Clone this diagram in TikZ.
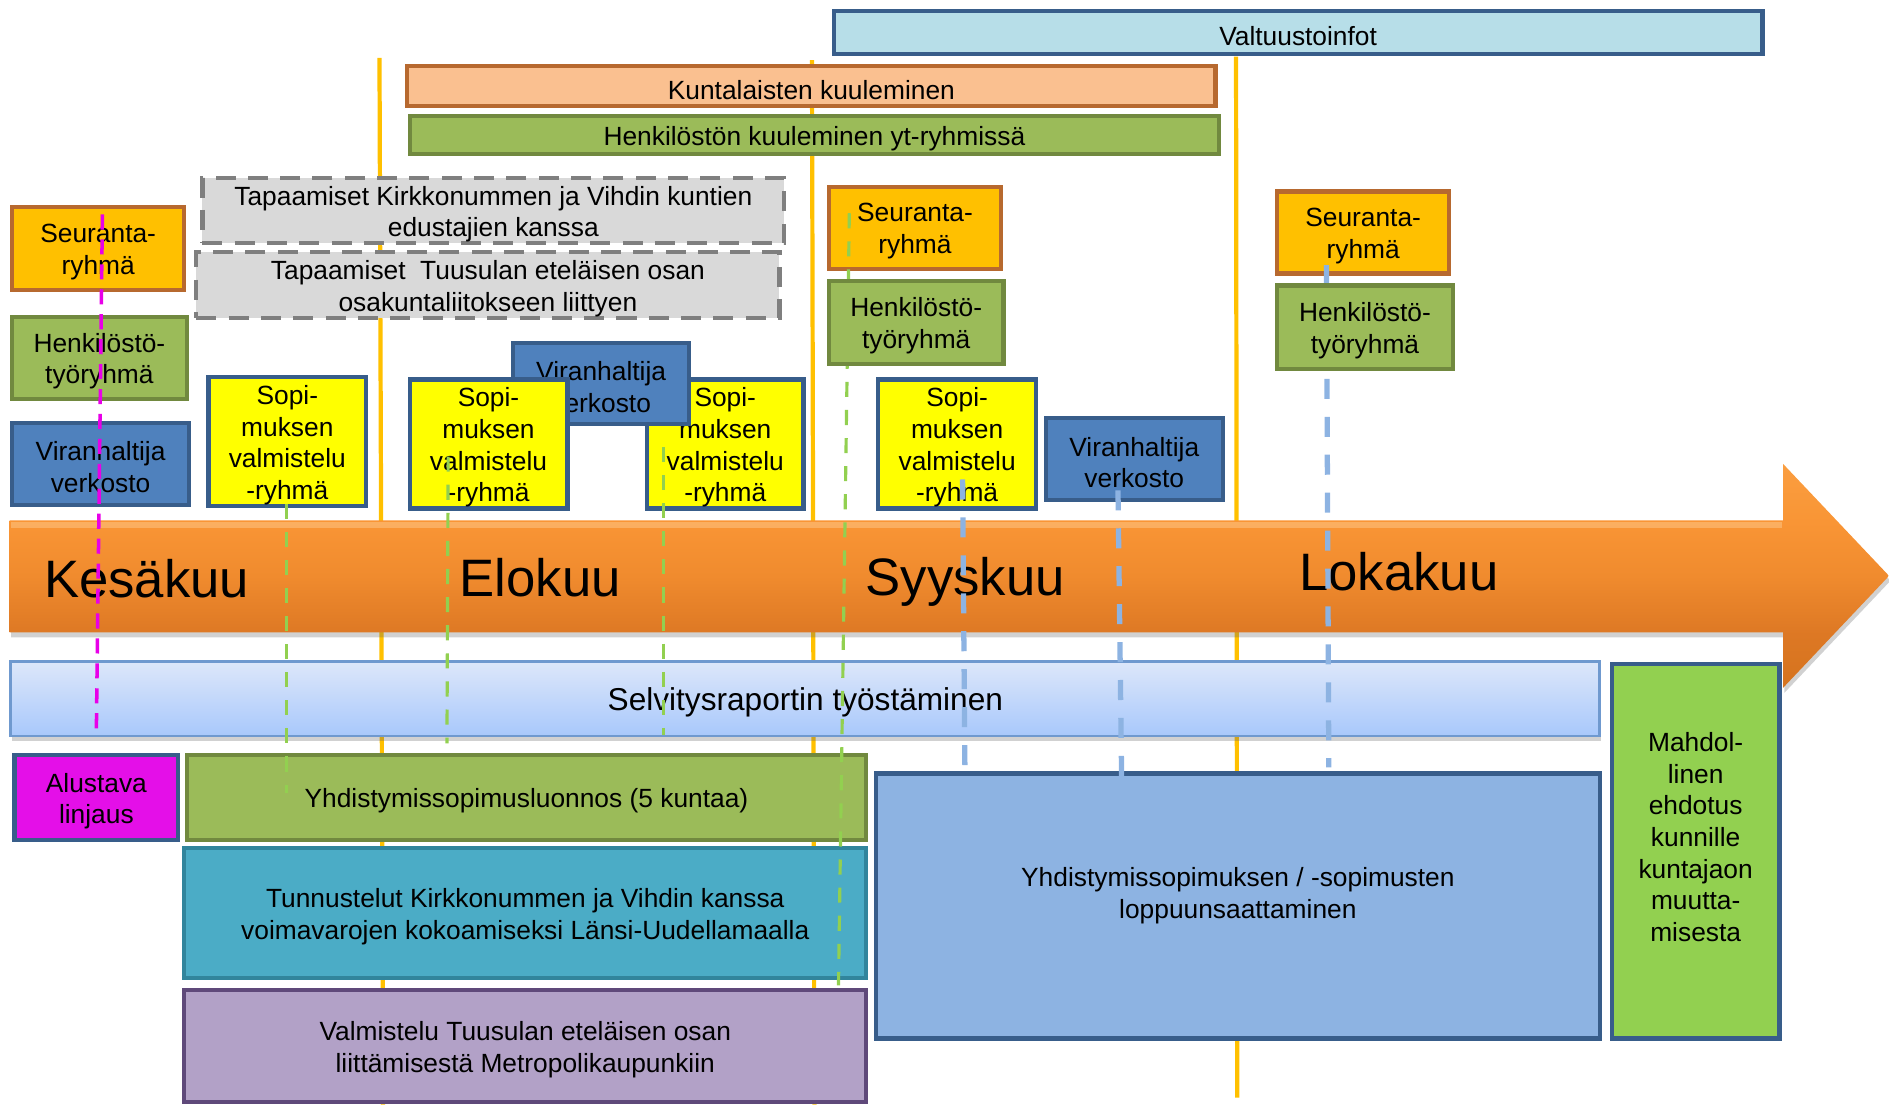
\documentclass[tikz,border=0pt]{standalone}
\usepackage{fontspec}
\setmainfont{Liberation Sans}
\usetikzlibrary{shadows}
\definecolor{vline}{HTML}{FFC000}
\definecolor{dblue}{HTML}{385D8A}
\definecolor{valtf}{HTML}{B7DEE8}
\definecolor{kuntf}{HTML}{FAC090}
\definecolor{brownb}{HTML}{B7692F}
\definecolor{olive}{HTML}{9BBB59}
\definecolor{oliveb}{HTML}{71893F}
\definecolor{grayf}{HTML}{D9D9D9}
\definecolor{grayb}{HTML}{7F7F7F}
\definecolor{goldf}{HTML}{FFC000}
\definecolor{bluef}{HTML}{4F81BD}
\definecolor{yelf}{HTML}{FFFF00}
\definecolor{magf}{HTML}{E40FE8}
\definecolor{tealf}{HTML}{4BACC6}
\definecolor{tealb}{HTML}{31859C}
\definecolor{purf}{HTML}{B2A1C7}
\definecolor{purb}{HTML}{5F497A}
\definecolor{ltbluef}{HTML}{8DB3E2}
\definecolor{limef}{HTML}{92D050}
\definecolor{selvt}{HTML}{DDE7FA}
\definecolor{selvb}{HTML}{A8C8FB}
\definecolor{selvl}{HTML}{6F99CF}
\definecolor{magl}{HTML}{E800E8}
\definecolor{greenl}{HTML}{92D050}
\definecolor{bluel}{HTML}{8DB3E2}
\definecolor{arA}{HTML}{D5731E}
\definecolor{arB}{HTML}{DD7824}
\definecolor{arC}{HTML}{F08B2E}
\definecolor{arD}{HTML}{F99535}
\definecolor{arE}{HTML}{FA9E40}
\definecolor{arH}{HTML}{FDC585}
\pgfdeclareverticalshading{arrowshade}{100bp}{color(0bp)=(arA); color(25bp)=(arA); color(37bp)=(arB); color(50bp)=(arC); color(62bp)=(arD); color(75bp)=(arE); color(100bp)=(arE)}
\newcommand\myfont{\fontsize{7.5}{9}\selectfont}
\newcommand\selvfont{\fontsize{9}{11}\selectfont}
\newcommand\bigmonth{\fontsize{15}{18}\selectfont}
% [label options] name, style, x1, y1, x2, y2, text
\newcommand\bx[8][]{\node[box,#3,minimum width={(#6-#4)*0.012047cm},minimum height={(#7-#5)*0.012047cm},label={[boxtext,yshift=-1pt,#1]center:#8}] (#2) at ({(#4+#6)/2},{(#5+#7)/2}) {};}
\begin{document}
\begin{tikzpicture}[x=0.012047cm,y=-0.012047cm,
  box/.style={inner sep=0pt, draw, line width=1.2pt},
  boxtext/.style={inner sep=0pt, align=center, font=\myfont, text=black},
  gdash/.style={dash pattern=on 5.7pt off 3.5pt},
  vl/.style={draw=vline, line width=1.2pt},
  magdash/.style={draw=magl, line width=1pt, dash pattern=on 4.3pt off 2.8pt},
  grdash/.style={draw=greenl, line width=0.9pt, dash pattern=on 4.3pt off 3.7pt},
  bldash/.style={draw=bluel, line width=1.5pt, dash pattern=on 5.7pt off 5.1pt},
  month/.style={anchor=base west, inner sep=0pt, font=\bigmonth, text=black},
  softshadow/.style={drop shadow={shadow xshift=0.4pt, shadow yshift=-1.4pt, opacity=0.3, fill=black!60}}]
\useasboundingbox (0,0) rectangle (1568,917);
% month separator lines
\coordinate (v1t) at (315,48); \coordinate (v1b) at (318,917);
\coordinate (v2t) at (674,50); \coordinate (v2b) at (676,917);
\coordinate (v3t) at (1026,47); \coordinate (v3b) at (1027,911);
\draw[vl] (v1t) -- (v1b);
\draw[vl] (v2t) -- (v2b);
\draw[vl] (v3t) -- (v3b);
% top bars
\bx{valt}{fill=valtf,draw=dblue}{692}{9}{1463}{45}{Valtuustoinfot}
\bx{kunt}{fill=kuntf,draw=brownb}{338}{55}{1009}{88}{Kuntalaisten kuuleminen}
\bx{henkk}{fill=olive,draw=oliveb}{340}{96}{1012}{128}{Henkilöstön kuuleminen yt-ryhmissä}
\bx{tap1}{fill=grayf,draw=grayb,gdash}{168}{148}{651}{202}{Tapaamiset Kirkkonummen ja Vihdin kuntien\\edustajien kanssa}
\bx{tap2}{fill=grayf,draw=grayb,gdash}{163}{209}{647}{264}{Tapaamiset\ \ Tuusulan eteläisen osan\\osakuntaliitokseen liittyen}
% June column
\bx{seur1}{fill=goldf,draw=brownb}{10}{172}{153}{241}{Seuranta-\\ryhmä}
\bx{henk1}{fill=olive,draw=oliveb}{10}{263}{155}{331}{Henkilöstö-\\työryhmä}
\bx{vir1}{fill=bluef,draw=dblue}{10}{351}{157}{419}{Viranhaltija\\verkosto}
\bx{sopi1}{fill=yelf,draw=dblue}{173}{313}{304}{420}{Sopi-\\muksen\\valmistelu\\-ryhmä}
% August column
\bx{sopi3}{fill=yelf,draw=dblue}{537}{315}{667}{422}{Sopi-\\muksen\\valmistelu\\-ryhmä}
\bx{vir2}{fill=bluef,draw=dblue}{426}{285}{572}{352}{Viranhaltija\\verkosto}
\bx{sopi2}{fill=yelf,draw=dblue}{340}{315}{471}{422}{Sopi-\\muksen\\valmistelu\\-ryhmä}
% September column
\bx{seur2}{fill=goldf,draw=brownb}{688}{155}{831}{223}{Seuranta-\\ryhmä}
\bx{sopi4}{fill=yelf,draw=dblue}{729}{315}{860}{422}{Sopi-\\muksen\\valmistelu\\-ryhmä}
\bx{vir3}{fill=bluef,draw=dblue}{868}{347}{1015}{415}{Viranhaltija\\verkosto}
% October column
\bx{seur3}{fill=goldf,draw=brownb}{1060}{159}{1203}{227}{Seuranta-\\ryhmä}
% timeline arrow
\path[shading=arrowshade, softshadow] (8,432) -- (1480,432) -- (1480,385) -- (1568,478) -- (1480,571) -- (1480,525) -- (8,525) -- cycle;
\fill[arH, opacity=0.55] (9,433) rectangle (1479,438);
\node[month] (kes) at (36,496) {Kesäkuu};
\node[month] (elo) at (381,495) {Elokuu};
\node[month] (syy) at (718,494) {Syyskuu};
\node[month] (lok) at (1078,490) {Lokakuu};
% report bar
\bx[font=\selvfont]{selv}{draw=selvl, line width=0.8pt, top color=selvt, bottom color=selvb, softshadow}{9}{549}{1328}{611}{Selvitysraportin työstäminen}
% lower boxes
\bx{alus}{fill=magf,draw=dblue}{12}{627}{148}{697}{Alustava\\linjaus}
\bx{yhd}{fill=olive,draw=oliveb}{155}{627}{719}{697}{Yhdistymissopimusluonnos (5 kuntaa)}
\bx{tunn}{fill=tealf,draw=tealb}{153}{704}{719}{812}{Tunnustelut Kirkkonummen ja Vihdin kanssa\\voimavarojen kokoamiseksi Länsi-Uudellamaalla}
\bx{valm}{fill=purf,draw=purb}{153}{822}{719}{915}{Valmistelu Tuusulan eteläisen osan\\liittämisestä Metropolikaupunkiin}
\bx[yshift=4pt]{loppu}{fill=ltbluef,draw=dblue}{727}{642}{1328}{862}{Yhdistymissopimuksen / -sopimusten\\loppuunsaattaminen}
\bx[yshift=5pt]{mahd}{fill=limef,draw=dblue}{1338}{551}{1477}{862}{Mahdol-\\linen\\ehdotus\\kunnille\\kuntajaon\\muutta-\\misesta}
% dashed connectors
\coordinate (m1) at (85,178); \coordinate (m2) at (80,606);
\draw[magdash] (m1) -- (m2);
\coordinate (g1a) at (238,418); \coordinate (g1b) at (238,658);
\draw[grdash] (g1a) -- (g1b);
\coordinate (g2a) at (372,379); \coordinate (g2b) at (371,617);
\draw[grdash] (g2a) -- (g2b);
\coordinate (g3a) at (551,371); \coordinate (g3b) at (551,610);
\draw[grdash] (g3a) -- (g3b);
\coordinate (g4a) at (705,177); \coordinate (g4b) at (696,818);
\draw[grdash] (g4a) -- (g4b);
\coordinate (b1a) at (799,398); \coordinate (b1b) at (801,646);
\draw[bldash] (b1a) -- (b1b);
\coordinate (b2a) at (928,407); \coordinate (b2b) at (931,644);
\draw[bldash] (b2a) -- (b2b);
\coordinate (b3a) at (1101,220); \coordinate (b3b) at (1103,637);
\draw[bldash] (b3a) -- (b3b);
% boxes lying above the dashed lines
\bx{henk2}{fill=olive,draw=oliveb}{688}{233}{833}{302}{Henkilöstö-\\työryhmä}
\bx{henk3}{fill=olive,draw=oliveb}{1060}{237}{1206}{306}{Henkilöstö-\\työryhmä}
\end{tikzpicture}
\end{document}
